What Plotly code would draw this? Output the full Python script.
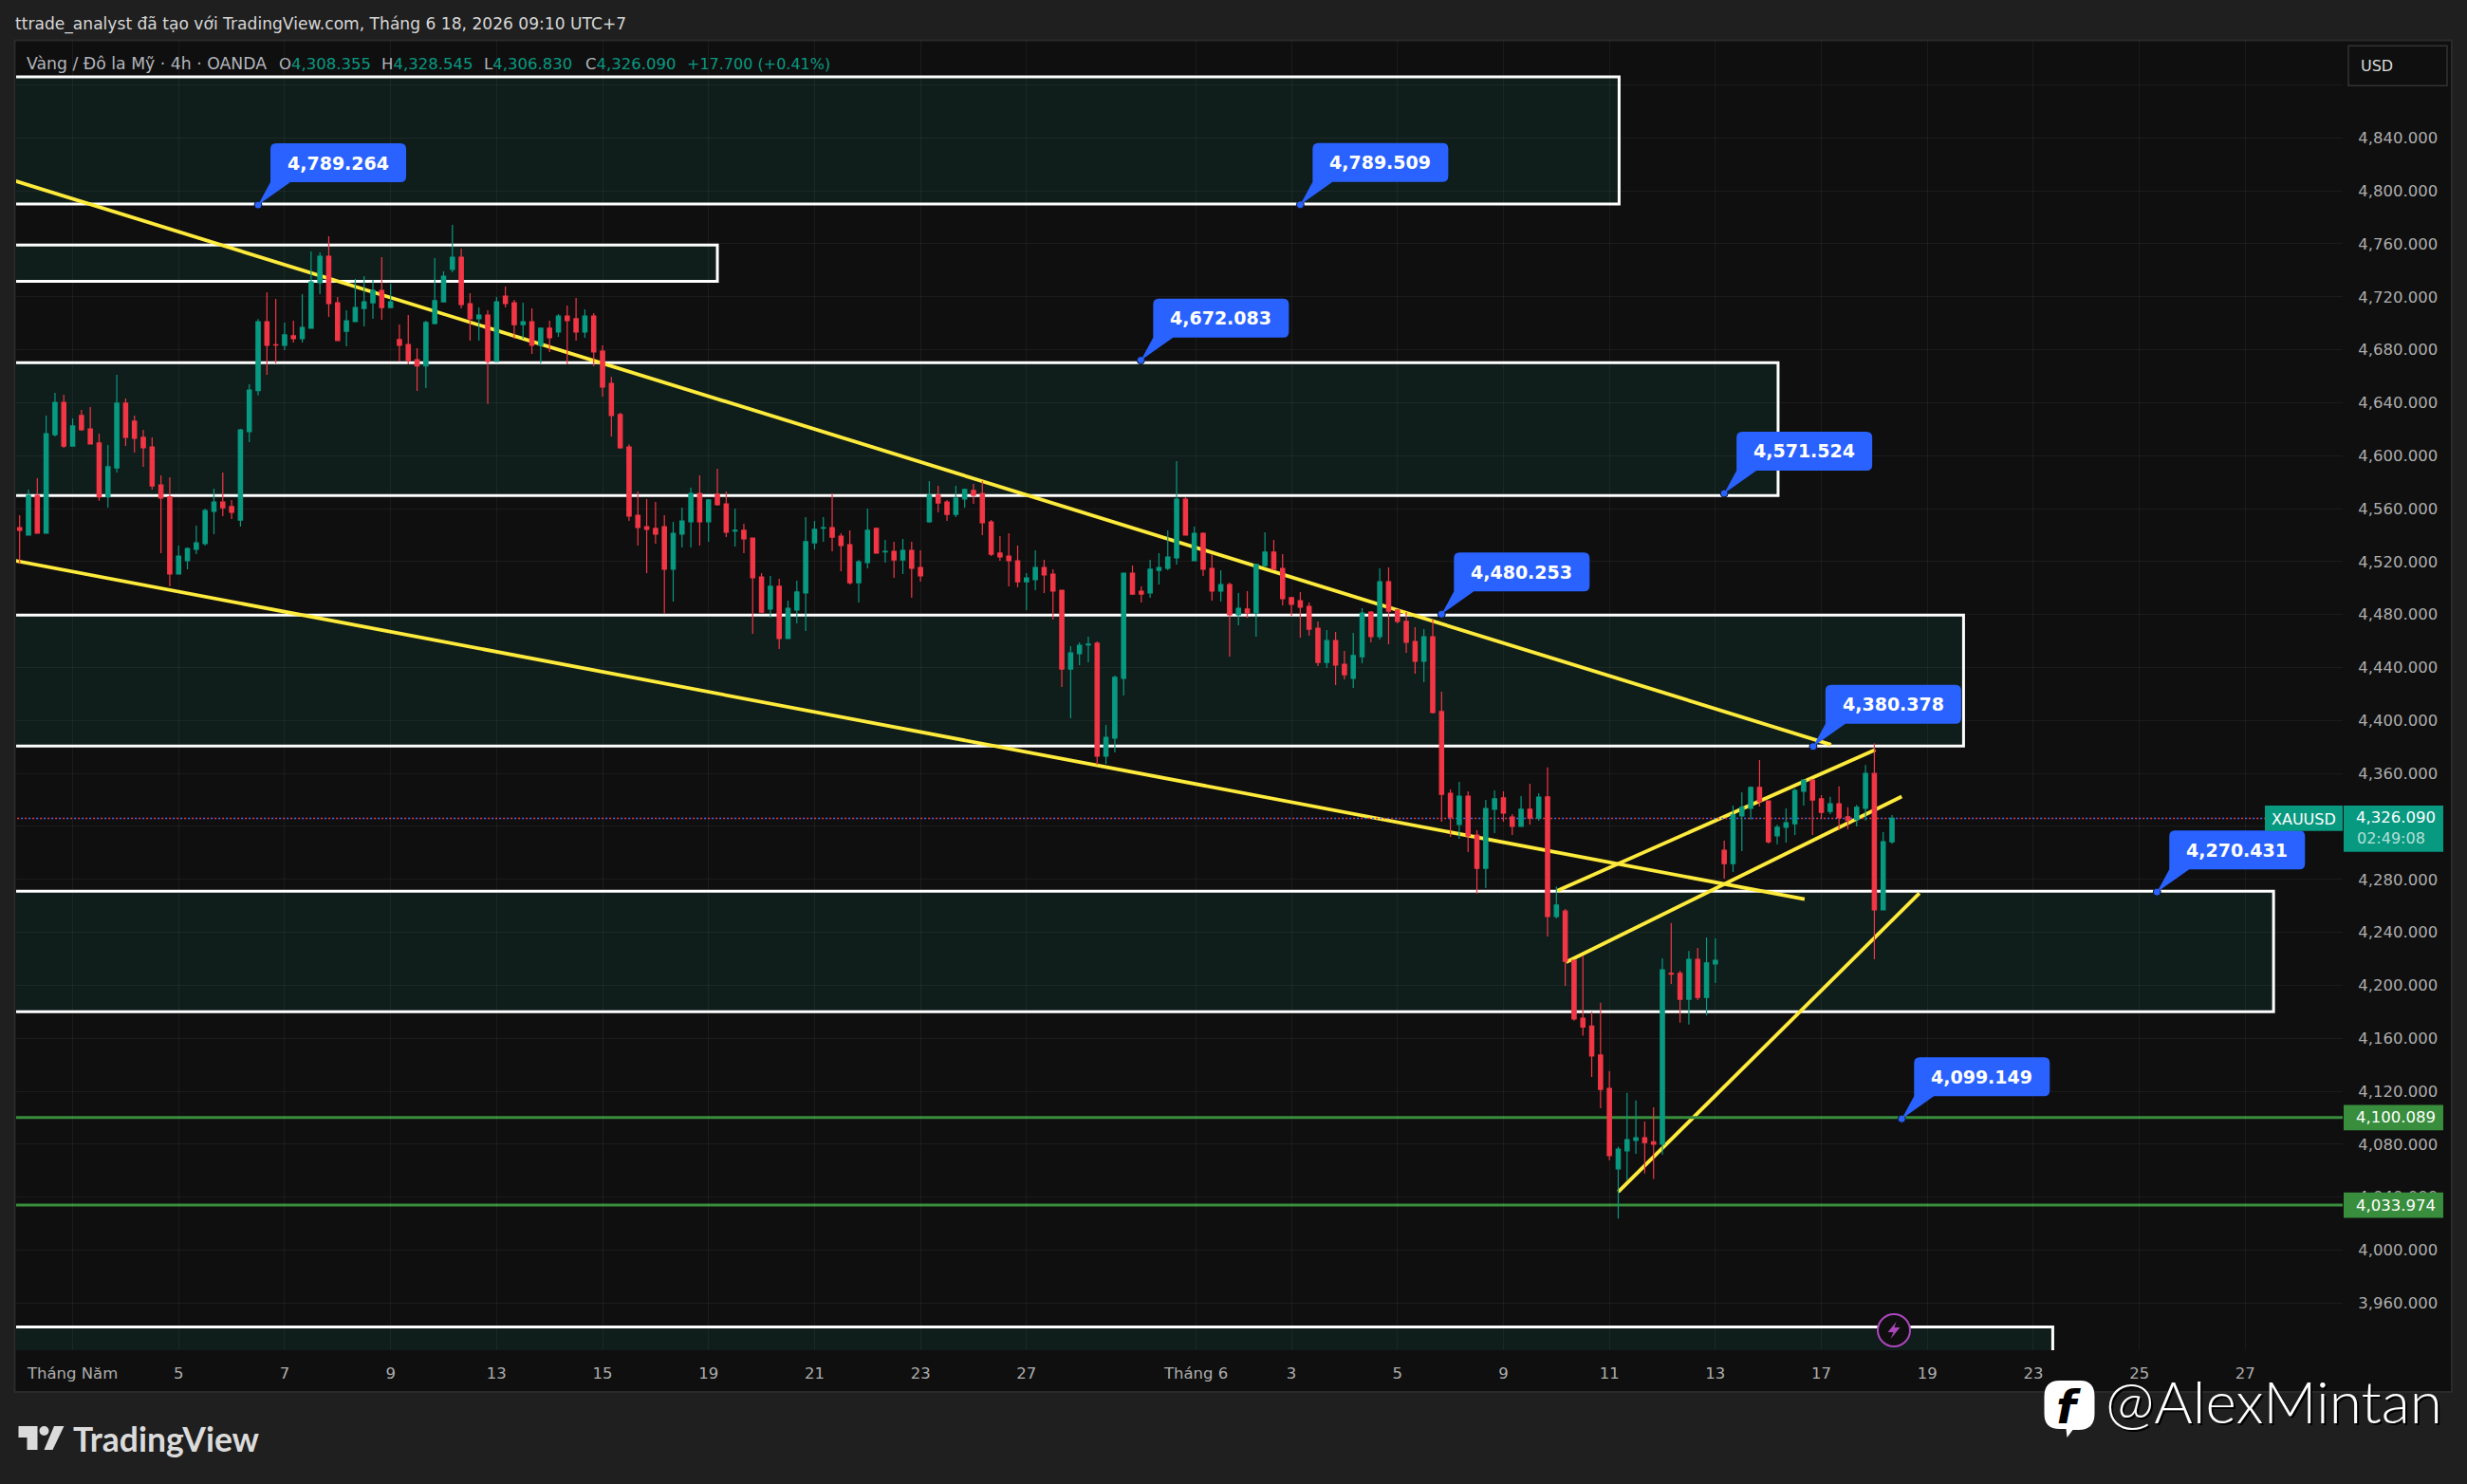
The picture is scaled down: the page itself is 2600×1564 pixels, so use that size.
import plotly.graph_objects as go

# ---- XAU/USD 4h candles, one entry per bar ----
opens = [4545.7,4540.0,4570.0,4541.4,4615.9,4640.3,4607.3,4630.3,4620.2,4609.5,
 4568.9,4590.8,4639.6,4626.0,4613.8,4606.6,4577.9,4568.9,4510.6,4520.6,
 4529.2,4533.5,4557.9,4565.0,4561.5,4551.4,4618.1,4649.1,4701.2,4683.8,
 4683.3,4690.5,4688.3,4696.2,4730.6,4750.6,4715.5,4694.0,4701.2,4711.2,
 4715.5,4724.8,4711.9,4687.6,4684.0,4672.5,4667.7,4699.8,4716.2,4740.6,
 4749.9,4714.8,4703.4,4706.2,4671.1,4720.5,4715.5,4699.0,4701.2,4683.3,
 4696.2,4693.3,4705.5,4703.4,4693.3,4705.5,4679.0,4654.6,4631.0,4606.6,
 4555.0,4546.4,4545.0,4546.4,4514.2,4540.7,4550.0,4571.5,4550.0,4570.8,
 4563.6,4543.1,4543.6,4537.8,4508.4,4484.1,4501.3,4461.9,4483.4,4496.3,
 4534.2,4545.2,4545.7,4539.2,4532.8,4504.1,4519.2,4545.0,4527.3,4527.8,
 4521.3,4528.5,4515.6,4550.0,4570.1,4565.0,4555.7,4567.2,4573.7,4571.5,
 4550.0,4526.4,4524.2,4520.6,4504.8,4506.3,4515.6,4510.6,4498.4,4438.9,
 4450.4,4457.1,4458.3,4373.0,4386.6,4431.8,4511.3,4497.7,4496.3,4513.4,
 4514.9,4522.8,4567.2,4520.6,4541.4,4514.9,4497.7,4502.7,4479.8,4484.1,
 4481.2,4517.0,4527.1,4514.9,4492.7,4490.5,4486.2,4469.7,4443.9,4460.4,
 4442.5,4431.8,4448.2,4481.9,4463.3,4504.8,4483.4,4474.8,4459.7,4444.7,
 4463.3,4406.7,4345.0,4321.4,4342.9,4313.5,4288.4,4332.9,4341.5,4327.1,
 4320.0,4332.9,4326.4,4342.3,4251.9,4256.1,4218.9,4175.2,4169.3,4147.3,
 4122.2,4061.4,4075.0,4082.9,4084.9,4081.9,4080.0,4209.0,4209.0,4189.5,
 4219.6,4190.8,4216.2,4302.0,4291.9,4327.9,4333.6,4349.4,4339.3,4312.9,
 4319.3,4322.0,4346.5,4355.1,4340.8,4331.4,4337.1,4327.2,4325.2,4333.6,
 4360.0,4256.9,4308.355]
closes = [4543.6,4570.0,4541.4,4616.6,4640.3,4607.3,4622.4,4619.5,4608.8,4568.9,
 4591.6,4639.6,4613.8,4613.1,4605.9,4577.2,4567.9,4510.6,4524.2,4529.9,
 4534.2,4558.6,4565.0,4560.7,4557.2,4619.5,4649.6,4701.2,4683.3,4683.5,
 4691.2,4688.3,4696.9,4731.3,4750.6,4714.8,4686.9,4701.9,4711.9,4716.2,
 4724.8,4711.9,4716.2,4683.3,4671.8,4667.7,4700.5,4717.0,4735.6,4749.9,
 4714.1,4703.4,4706.2,4671.1,4716.2,4714.8,4699.0,4701.2,4683.3,4696.2,
 4689.0,4705.5,4701.9,4693.3,4705.5,4678.3,4651.8,4630.3,4605.9,4554.3,
 4545.7,4544.3,4540.7,4514.2,4541.4,4550.7,4571.5,4550.0,4566.5,4562.9,
 4542.1,4543.6,4537.1,4507.7,4481.9,4501.3,4461.9,4484.8,4497.0,4535.0,
 4544.3,4545.7,4538.5,4532.1,4504.1,4519.9,4543.6,4526.4,4527.8,4521.3,
 4528.5,4514.9,4509.2,4570.1,4564.3,4555.7,4567.9,4574.4,4570.1,4549.3,
 4525.6,4523.5,4520.6,4504.8,4507.7,4515.6,4509.9,4497.7,4438.9,4451.1,
 4456.8,4457.6,4373.0,4387.3,4432.5,4511.3,4495.5,4495.5,4514.2,4515.6,
 4523.5,4567.2,4540.0,4541.4,4514.2,4497.7,4502.7,4479.8,4484.8,4481.2,
 4517.8,4527.1,4514.2,4492.0,4487.7,4485.5,4469.0,4443.9,4460.4,4441.8,
 4434.6,4449.0,4481.2,4463.3,4504.8,4482.6,4474.8,4459.0,4444.7,4463.3,
 4406.0,4344.3,4327.1,4342.9,4312.8,4288.4,4333.6,4340.8,4330.0,4320.0,
 4332.9,4326.4,4342.2,4251.9,4260.6,4218.1,4174.5,4168.5,4146.6,4121.4,
 4071.3,4076.3,4083.4,4084.9,4081.2,4080.0,4211.7,4208.5,4189.5,4219.6,
 4190.8,4216.9,4218.9,4291.9,4328.7,4334.4,4349.4,4338.6,4308.4,4319.3,
 4322.8,4347.2,4355.1,4340.0,4330.7,4337.1,4326.5,4324.5,4334.4,4360.0,
 4256.9,4308.4,4326.09]
highs = [4555.0,4574.3,4583.0,4630.3,4647.5,4646.0,4628.1,4634.6,4636.7,4616.6,
 4608.0,4661.1,4643.1,4630.3,4619.5,4613.8,4585.1,4583.7,4532.1,4530.6,
 4547.1,4560.0,4575.1,4587.3,4566.5,4620.2,4653.9,4703.1,4723.4,4718.4,
 4700.5,4701.9,4722.0,4754.2,4753.5,4765.7,4719.8,4709.8,4733.4,4735.6,
 4732.7,4749.9,4729.9,4699.0,4706.2,4681.1,4701.9,4749.2,4739.2,4774.3,
 4756.4,4722.7,4711.9,4709.8,4719.8,4727.7,4717.7,4715.5,4711.2,4696.2,
 4701.9,4706.9,4713.4,4719.1,4710.5,4707.6,4683.3,4659.4,4632.4,4608.5,
 4572.9,4567.2,4565.1,4555.0,4550.0,4560.8,4575.8,4585.1,4567.2,4590.1,
 4572.9,4560.0,4548.6,4537.8,4511.3,4509.2,4507.0,4490.5,4505.6,4553.6,
 4550.7,4553.6,4571.5,4541.4,4543.6,4521.3,4560.0,4545.7,4536.4,4534.9,
 4537.1,4534.9,4528.5,4580.8,4577.2,4566.5,4577.2,4575.1,4578.7,4580.8,
 4551.4,4539.2,4541.4,4532.1,4511.3,4528.5,4521.3,4514.2,4498.4,4456.1,
 4459.0,4463.3,4459.7,4396.7,4433.9,4511.3,4517.0,4501.3,4521.3,4526.4,
 4543.6,4595.9,4568.6,4546.4,4542.1,4525.6,4513.4,4504.1,4496.3,4497.7,
 4518.5,4542.1,4536.4,4525.6,4493.4,4497.0,4489.1,4474.8,4468.3,4466.9,
 4452.5,4466.2,4484.8,4482.6,4514.9,4515.6,4484.1,4481.9,4470.5,4469.0,
 4476.2,4421.7,4347.9,4353.7,4346.5,4317.1,4340.0,4347.2,4346.5,4329.3,
 4342.9,4352.2,4345.1,4364.5,4274.6,4257.6,4218.9,4222.6,4180.1,4186.8,
 4135.2,4078.2,4118.7,4113.0,4097.2,4107.8,4220.4,4247.0,4211.0,4226.0,
 4228.3,4236.2,4235.4,4309.2,4335.8,4345.7,4350.2,4370.1,4339.3,4321.3,
 4333.6,4348.7,4355.1,4355.1,4343.7,4342.3,4350.2,4334.4,4336.3,4366.4,
 4382.7,4315.6,4328.545]
lows = [4518.2,4540.0,4541.4,4541.4,4614.5,4605.9,4607.3,4618.8,4608.8,4566.0,
 4560.7,4587.3,4607.3,4602.3,4591.6,4574.3,4526.3,4501.3,4510.6,4514.2,
 4525.6,4532.1,4540.7,4554.3,4552.1,4546.4,4610.2,4645.5,4661.1,4669.9,
 4679.7,4685.4,4685.4,4696.2,4722.0,4704.8,4686.9,4682.6,4701.2,4697.6,
 4703.4,4702.6,4711.9,4671.1,4669.0,4648.9,4651.0,4699.0,4716.2,4738.5,
 4711.2,4686.9,4686.9,4639.1,4671.1,4711.9,4688.3,4688.3,4676.8,4669.7,
 4678.3,4689.7,4669.0,4686.9,4689.0,4667.5,4644.6,4614.5,4605.2,4550.7,
 4532.1,4511.3,4533.5,4480.7,4489.8,4530.6,4530.6,4532.1,4534.9,4562.2,
 4538.5,4531.4,4526.4,4465.4,4481.2,4477.6,4454.0,4461.9,4473.3,4467.6,
 4529.2,4534.9,4527.8,4512.7,4502.7,4489.1,4514.9,4526.4,4519.2,4507.7,
 4510.6,4492.7,4504.8,4549.3,4557.2,4550.7,4553.6,4560.8,4563.6,4540.0,
 4524.2,4520.6,4501.3,4500.6,4483.4,4498.4,4496.3,4476.2,4425.3,4401.7,
 4441.8,4443.9,4366.5,4367.3,4375.9,4418.9,4494.8,4489.1,4492.7,4502.7,
 4513.4,4517.8,4540.0,4520.6,4509.2,4490.5,4489.8,4448.3,4471.9,4477.6,
 4463.3,4515.6,4514.2,4486.9,4479.1,4462.6,4464.0,4441.1,4439.6,4426.7,
 4431.1,4424.6,4443.2,4459.0,4461.2,4457.6,4473.3,4451.1,4435.3,4428.9,
 4405.3,4323.6,4312.1,4310.7,4300.6,4269.3,4273.4,4315.0,4323.6,4313.5,
 4320.0,4321.4,4324.3,4236.9,4250.5,4199.6,4173.2,4161.9,4130.8,4107.1,
 4067.9,4023.9,4052.8,4072.8,4057.8,4053.8,4072.0,4201.1,4171.8,4170.3,
 4188.8,4177.4,4201.8,4280.6,4285.5,4301.3,4325.2,4335.1,4307.0,4306.5,
 4307.7,4313.6,4335.8,4313.6,4325.5,4329.2,4317.3,4317.8,4320.0,4324.5,
 4219.6,4256.9,4306.83]
bars = list(range(len(closes)))

# ---- axes ----
price_ticks = list(range(4880, 3959, -40))
price_labels = [""] + [f"{p:,.3f}" for p in price_ticks[1:]]
time_ticks = [6, 18, 30, 42, 54, 66, 78, 90, 102, 114, 133.2, 144, 156, 168, 180,
              192, 204, 216, 228, 240, 252]
time_labels = ["Tháng Năm", "5", "7", "9", "13", "15", "19", "21", "23", "27",
               "Tháng 6", "3", "5", "9", "11", "13", "17", "19", "23", "25", "27"]

# ---- supply / demand zones: top, bottom, right-hand bar ----
zone_tops = [4886.0, 4759.0, 4670.2, 4479.6, 4271.0, 3942.0]
zone_bottoms = [4790.0, 4731.6, 4569.9, 4380.7, 4180.0, 3900.0]
zone_ends = [181.1, 79.0, 199.1, 220.1, 255.2, 230.2]

# ---- trend lines: start bar, start price, end bar, end price ----
trend_x0 = [-0.45, -0.45, 174.1, 175.1, 181.0]
trend_y0 = [4807.3, 4520.6, 4271.5, 4217.5, 4044.0]
trend_x1 = [205.1, 202.1, 210.1, 213.1, 215.1]
trend_y1 = [4381.7, 4265.0, 4377.8, 4342.5, 4269.5]

# ---- horizontal levels and notes ----
level_prices = [4100.089, 4033.974]
level_labels = ["4,100.089", "4,033.974"]
last_price = 4326.09
note_bars = [27.0, 145.0, 126.95, 193.0, 161.0, 203.07, 242.0, 213.1]
note_prices = [4789.264, 4789.509, 4672.083, 4571.524, 4480.253, 4380.378, 4270.431, 4099.149]
note_labels = [f"{p:,.3f}" for p in note_prices]

# ---- page geometry (pixels) ----
W, H = 2600, 1564
L, R, T, B = 16.5, 2469, 43, 1423
bar0, bar_step = 20.2, 9.31
price_ref, y_ref, px_per_usd = 4840, 145.3, 1.3955
x_range = [(L - bar0) / bar_step, (R - bar0) / bar_step]
y_range = [price_ref - (B - y_ref) / px_per_usd, price_ref + (y_ref - T) / px_per_usd]

PAGE = "#1f1f1f"
PANE = "#0f0f0f"
UP = "#089981"
DOWN = "#f23645"
ZONE = "#0f1d1b"
YELLOW = "#ffeb3b"
BLUE = "#2962ff"
LEVEL = "#388e3c"
AXIS_TEXT = "#adadad"
FONT = "DejaVu Sans"


def fx(x):
    return (x - L) / (R - L)


def fy(y):
    return (B - y) / (B - T)


def pts(*xy):
    """Offsets from the pane's bottom-left corner, as a path parameter string."""
    return " ".join(f"{x - L:.1f},{B - y:.1f}" for x, y in xy)


def paper_path(path, **kw):
    return dict(type="path", path=path, xref="paper", yref="paper", xsizemode="pixel",
                ysizemode="pixel", xanchor=0, yanchor=0, **kw)


shapes = []
# page frame behind the pane and the axes
shapes.append(dict(type="rect", xref="paper", yref="paper", x0=fx(15), x1=fx(2584), y0=fy(1467),
                   y1=fy(42.5), fillcolor=PANE, line=dict(color="#2a2a2a", width=2), layer="below"))

for top, bottom, end in zip(zone_tops, zone_bottoms, zone_ends):
    shapes.append(dict(type="rect", xref="x", yref="y", x0=-5, x1=end, y0=bottom, y1=top,
                       fillcolor=ZONE, line=dict(color="#ffffff", width=3), layer="below"))

for x0, y0, x1, y1 in zip(trend_x0, trend_y0, trend_x1, trend_y1):
    shapes.append(dict(type="line", xref="x", yref="y", x0=x0, y0=y0, x1=x1, y1=y1,
                       line=dict(color=YELLOW, width=3.8), layer="below"))

for level in level_prices:
    shapes.append(dict(type="line", xref="x", yref="y", x0=-5, x1=270, y0=level, y1=level,
                       line=dict(color=LEVEL, width=3), layer="below"))

# last-price line: alternating blue and red dots
for colour, pattern in [("#4a6cff", "2px,6px"), ("#f23645", "0px,4px,2px,2px")]:
    shapes.append(dict(type="line", xref="x", yref="y", x0=-5, x1=(2387 - bar0) / bar_step,
                       y0=last_price, y1=last_price,
                       line=dict(color=colour, width=1.6, dash=pattern), layer="below"))

# speech-bubble notes with a tail reaching down to the anchor point
NOTE_PATH = ("M0,0 L13,24 L13,59 Q13,65 19,65 L150,65 Q156,65 156,59 "
             "L156,30 Q156,24 150,24 L34,24 Z")
for bar, price in zip(note_bars, note_prices):
    shapes.append(dict(type="path", path=NOTE_PATH, xref="x", yref="y", xsizemode="pixel",
                       ysizemode="pixel", xanchor=bar, yanchor=price, fillcolor=BLUE,
                       line=dict(width=0), layer="above"))

# price-axis tags
for level in level_prices:
    shapes.append(dict(type="rect", xref="paper", yref="y", x0=fx(2470), x1=fx(2575), ysizemode="pixel",
                       yanchor=level, y0=-13.4, y1=13.4, fillcolor=LEVEL, line=dict(width=0), layer="above"))
shapes.append(dict(type="rect", xref="paper", yref="paper", x0=fx(2470), x1=fx(2575), y0=fy(897.7), y1=fy(849),
                   fillcolor=UP, line=dict(width=0), layer="above"))
shapes.append(dict(type="rect", xref="paper", yref="paper", x0=fx(2387), x1=fx(2469), y0=fy(875.7), y1=fy(849),
                   fillcolor=UP, line=dict(width=0), layer="above"))
shapes.append(dict(type="rect", xref="paper", yref="paper", x0=fx(2475), x1=fx(2579), y0=fy(90.3), y1=fy(48.3),
                   fillcolor=PANE, line=dict(color="#333333", width=1.5), layer="above"))

# lightning badge on the time axis edge
shapes.append(dict(type="circle", xref="paper", yref="paper", xsizemode="pixel", ysizemode="pixel",
                   xanchor=0, yanchor=0, x0=1995.5 - 17 - L, x1=1995.5 + 17 - L, y0=B - 1402 - 17, y1=B - 1402 + 17,
                   fillcolor=PANE, line=dict(color="#ab47bc", width=2), layer="above"))
shapes.append(paper_path("M" + pts((1998, 1393)) + " L" + pts((1989, 1404)) + " L" + pts((1995, 1404))
                         + " L" + pts((1992, 1411)) + " L" + pts((2002, 1399)) + " L" + pts((1996, 1399)) + " Z",
                         fillcolor="#ab47bc", line=dict(width=0), layer="above"))

# TradingView mark
LOGO = "#dbdbdb"
shapes.append(paper_path("M" + pts((19, 1503), (39, 1503), (39, 1528), (28, 1528), (28, 1515), (19, 1515)).replace(" ", " L") + " Z",
                         fillcolor=LOGO, line=dict(width=0), layer="above"))
shapes.append(dict(type="circle", xref="paper", yref="paper", xsizemode="pixel", ysizemode="pixel",
                   xanchor=0, yanchor=0, x0=41 - L, x1=51 - L, y0=B - 1513, y1=B - 1503,
                   fillcolor=LOGO, line=dict(width=0), layer="above"))
shapes.append(paper_path("M" + pts((56.5, 1503), (67, 1503), (55, 1528), (46, 1528)).replace(" ", " L") + " Z",
                         fillcolor=LOGO, line=dict(width=0), layer="above"))

# page-badge icon beside the handle
shapes.append(paper_path("M" + pts((2170, 1455)) + " L" + pts((2192, 1455)) + " Q" + pts((2207, 1455), (2207, 1472))
                         + " L" + pts((2207, 1490)) + " Q" + pts((2207, 1507), (2190, 1507))
                         + " L" + pts((2184, 1507)) + " L" + pts((2178, 1515)) + " L" + pts((2177, 1506))
                         + " L" + pts((2170, 1506)) + " Q" + pts((2154, 1506), (2154, 1490))
                         + " L" + pts((2154, 1472)) + " Q" + pts((2154, 1455), (2170, 1455)) + " Z",
                         fillcolor="#ffffff", line=dict(width=0), layer="above"))

annotations = []


def page_text(text, x, y, size, color, anchor="left", **font_kw):
    annotations.append(dict(text=text, xref="paper", yref="paper", x=fx(x), y=fy(y), xanchor=anchor,
                            yanchor="middle", showarrow=False,
                            font=dict(family=font_kw.pop("family", FONT), size=size, color=color, **font_kw)))


page_text("ttrade_analyst đã tạo với TradingView.com, Tháng 6 18, 2026 09:10 UTC+7", 13, 25, 17.1, "#d6d6d6")
GREY = "#b2b5bc"
page_text("Vàng / Đô la Mỹ · 4h · OANDA", 25.5, 67, 17.3, GREY)
for head, value, x in [("O", "4,308.355", 292), ("H", "4,328.545", 400), ("L", "4,306.830", 508), ("C", "4,326.090", 615)]:
    page_text(f'<span style="color:{GREY}">{head}</span>{value}', x, 67, 16.5, UP)
page_text("+17.700 (+0.41%)", 722, 67, 16, UP)
page_text("USD", 2486, 69, 16, "#dcdcdc")
page_text("XAUUSD", 2428, 863, 16, "#ffffff", anchor="center")
page_text("4,326.090", 2525, 861, 16.5, "#ffffff", anchor="center")
page_text("02:49:08", 2520, 883, 16, "#b5e0d6", anchor="center")
page_text("TradingView", 75, 1516, 35.5, LOGO, family="Lato", weight=700)
page_text("@AlexMintan", 2217, 1476, 62, "#ffffff", family="Lato", weight=300, shadow="2px 2px 0 #000000")
page_text("f", 2180, 1483, 48, "#000000", anchor="center", weight=700, style="italic")

for text, level in zip(level_labels, level_prices):
    annotations.append(dict(text=text, xref="paper", yref="y", x=fx(2525), y=level, xanchor="center",
                            yanchor="middle", showarrow=False, font=dict(family=FONT, size=16.5, color="#ffffff")))

for label, bar, price in zip(note_labels, note_bars, note_prices):
    annotations.append(dict(text=label, xref="x", yref="y", x=bar, y=price, xshift=84.5, yshift=44.5,
                            xanchor="center", yanchor="middle", showarrow=False,
                            font=dict(family=FONT, size=19, color="#ffffff", weight=700)))

fig = go.Figure()
fig.add_trace(go.Candlestick(
    x=bars, open=opens, high=highs, low=lows, close=closes,
    increasing=dict(fillcolor=UP, line=dict(color=UP, width=1.2)),
    decreasing=dict(fillcolor=DOWN, line=dict(color=DOWN, width=1.2)),
    whiskerwidth=0, hoverinfo="skip", showlegend=False,
))
# anchor dots of the notes
fig.add_trace(go.Scatter(
    x=note_bars, y=note_prices, mode="markers", hoverinfo="skip", showlegend=False,
    marker=dict(size=8, color=BLUE, line=dict(color="#10151f", width=1)),
))

GRID = "rgba(255,255,255,0.05)"
fig.update_layout(
    width=W, height=H,
    margin=dict(l=L, r=W - R, t=T, b=H - B, pad=0, autoexpand=False),
    paper_bgcolor=PAGE, plot_bgcolor=PANE,
    showlegend=False, boxgap=0.33,
    font=dict(family=FONT, size=16, color=AXIS_TEXT),
    xaxis=dict(range=x_range, tickmode="array", tickvals=time_ticks, ticktext=time_labels,
               showgrid=True, gridcolor=GRID, gridwidth=1, zeroline=False, showline=False,
               ticks="outside", ticklen=9, tickcolor="rgba(0,0,0,0)", rangeslider=dict(visible=False),
               tickfont=dict(family=FONT, size=16.5, color=AXIS_TEXT), tickangle=0),
    yaxis=dict(range=y_range, side="right", tickmode="array", tickvals=price_ticks, ticktext=price_labels,
               showgrid=True, gridcolor=GRID, gridwidth=1, zeroline=False, showline=False,
               ticks="outside", ticklen=12, tickcolor="rgba(0,0,0,0)",
               tickfont=dict(family=FONT, size=16.5, color=AXIS_TEXT)),
    shapes=shapes, annotations=annotations,
)

fig.write_html("out.html", config={"displayModeBar": False})
